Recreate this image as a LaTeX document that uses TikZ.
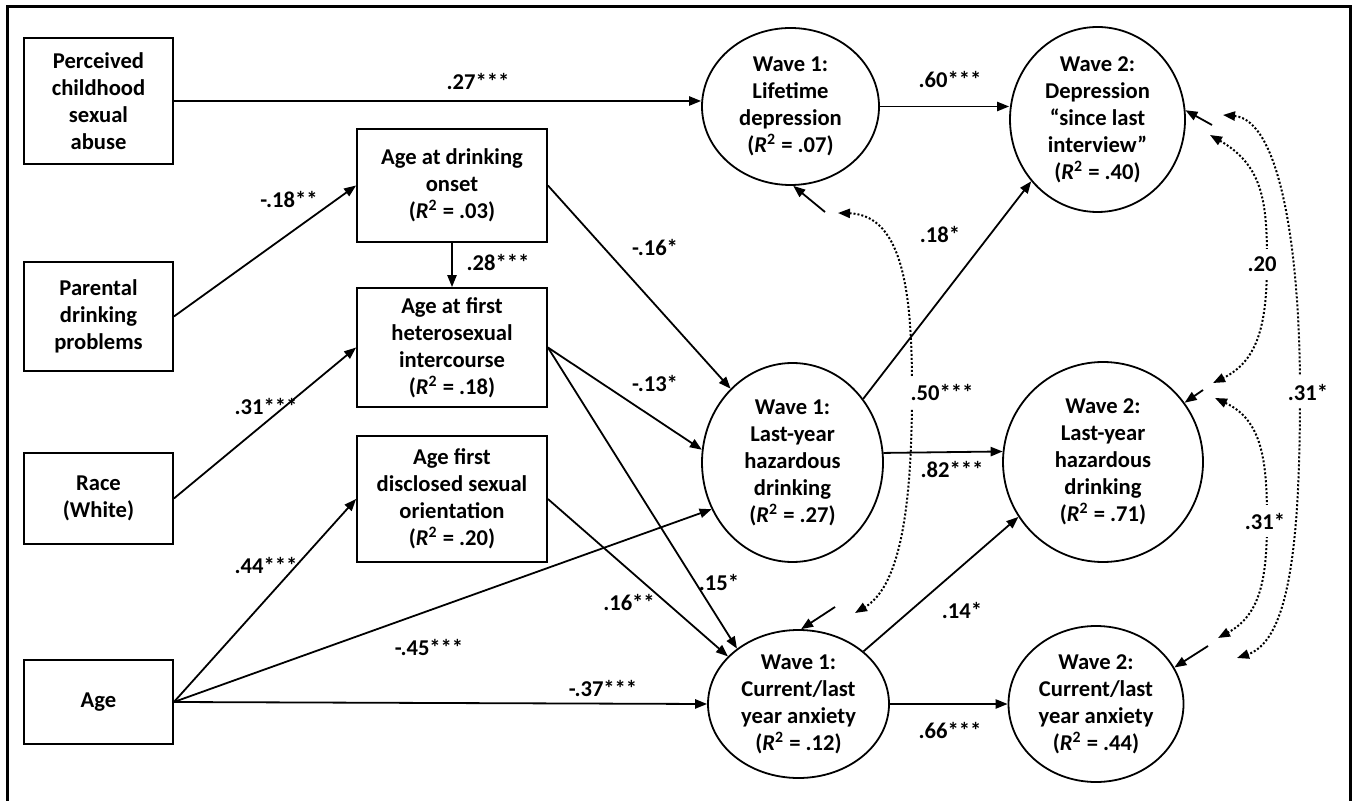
\documentclass[tikz,border=0pt]{standalone}
\usepackage{fontspec}
\setmainfont{Carlito}
\usetikzlibrary{arrows.meta,shapes.geometric}
\newcommand{\Rsq}[1]{(\textit{R}\textsuperscript{2} = #1)}

\begin{document}
\begin{tikzpicture}[x=0.5pt,y=-0.5pt,font=\bfseries\fontsize{11.3}{13.5}\selectfont,
  boite/.style={draw,line width=0.9pt,align=center,inner sep=0pt,minimum width=74.5pt},
  cercle/.style={draw,ellipse,line width=0.9pt,align=center,inner sep=0pt},
  fl/.style={line width=0.9pt,-{Triangle[length=6pt,width=4.6pt]}},
  cov/.style={line width=1pt,dash pattern=on 1pt off 1pt,{Triangle[length=6pt,width=4.6pt]}-{Triangle[length=6pt,width=4.6pt]}}]
\useasboundingbox (0,0) rectangle (1353,801);
\draw[line width=1.5pt] (7,830) -- (7,7) -- (1350,7) -- (1350,830);
% variables observees
\node[boite,minimum height=63pt] (perc) at (98.5,101) {Perceived\\childhood\\sexual\\abuse};
\node[boite,minimum height=54.5pt] (parent) at (98.5,316.5) {Parental\\drinking\\problems};
\node[boite,minimum height=45.5pt] (race) at (98.5,498.5) {Race\\(White)};
\node[boite,minimum height=42pt] (age) at (98.5,702) {Age};
\node[boite,minimum width=95pt,minimum height=56.5pt] (onset) at (452,185.5) {Age at drinking\\onset\\\Rsq{.03}};
\node[boite,minimum width=95pt,minimum height=59.5pt] (hetero) at (452,347.5) {Age at first\\heterosexual\\intercourse\\\Rsq{.18}};
\node[boite,minimum width=95pt,minimum height=63pt] (discl) at (452,499) {Age first\\disclosed sexual\\orientation\\\Rsq{.20}};
% vagues 1 et 2
\node[cercle,minimum width=88.5pt,minimum height=78.5pt] (lifeW1) at (790.5,106.5) {Wave 1:\\Lifetime\\depression\\\Rsq{.07}};
\node[cercle,minimum width=90.5pt,minimum height=99.5pt] (hazW1) at (792.5,462.5) {Wave 1:\\Last-year\\hazardous\\drinking\\\Rsq{.27}};
\node[cercle,minimum width=90.5pt,minimum height=74pt] (anxW1) at (798.5,704) {Wave 1:\\Current/last\\year anxiety\\\Rsq{.12}};
\node[cercle,minimum width=87.5pt,minimum height=92.5pt] (depW2) at (1097.5,119.5) {Wave 2:\\Depression\\“since last\\interview”\\\Rsq{.40}};
\node[cercle,minimum width=100pt,minimum height=100pt] (hazW2) at (1103,462) {Wave 2:\\Last-year\\hazardous\\drinking\\\Rsq{.71}};
\node[cercle,minimum width=87.5pt,minimum height=78pt] (anxW2) at (1096,704) {Wave 2:\\Current/last\\year anxiety\\\Rsq{.44}};
% chemins
\draw[fl] (perc.east) -- (perc.east -| lifeW1.west);
\draw[fl] (parent.east) -- (onset.west);
\draw[fl] (race.east) -- (hetero.west);
\draw[fl] (age.east) -- (discl.west);
\draw[fl] (age.east) -- (hazW1.210);
\draw[fl] (age.east) -- (anxW1.west);
\draw[fl] (onset.south) -- (hetero.north);
\draw[fl] (onset.east) -- (hazW1.130);
\draw[fl] (hetero.east) -- (hazW1.172);
\draw[fl] (hetero.east) -- (anxW1.138);
\draw[fl] (discl.east) -- (anxW1.146);
\draw[fl] (lifeW1.east) -- (lifeW1.east -| depW2.west);
\draw[fl] (hazW1.42) -- (depW2.223);
\draw[fl] (hazW1.6) -- (hazW2.174);
\draw[fl] (anxW1.39) -- (hazW2.213);
\draw[fl] (anxW1.east) -- (anxW2.west);
\node (l27) at (478,82) {.27***};
\node (l18a) at (289,200) {-.18**};
\node (l28) at (498,263) {.28***};
\node (l16a) at (655,248) {-.16*};
\node (l13) at (655,383) {-.13*};
\node (l31a) at (266,406) {.31***};
\node (l44) at (266,565) {.44***};
\node (l16b) at (629,602) {.16**};
\node (l15) at (719,582) {.15*};
\node (l45) at (429,647) {-.45***};
\node (l37) at (603,688) {-.37***};
\node (l60) at (950,80) {.60***};
\node (l18b) at (940,235) {.18*};
\node (l82) at (952,470) {.82***};
\node (l14) at (962,610) {.14*};
\node (l66) at (950,730) {.66***};
% residus et covariances
\coordinate (e1) at (825,212); \coordinate (e2) at (835,607);
\coordinate (e3) at (1212,125); \coordinate (e4) at (1203,390); \coordinate (e5) at (1208,646);
\draw[fl] (e1) -- (lifeW1.272);
\draw[fl] (e2) -- (anxW1.88);
\draw[fl] (e3) -- (depW2.6);
\draw[fl] (e4) -- (hazW2.36);
\draw[fl] (e5) -- (anxW2.25);
\coordinate (c1a) at (838,213); \coordinate (c1b) at (855,613);
\coordinate (c2a) at (1210,135); \coordinate (c2b) at (1213,383);
\coordinate (c3a) at (1215,398); \coordinate (c3b) at (1218,638);
\coordinate (c4a) at (1223,115); \coordinate (c4b) at (1237,658);
\draw[cov] (c1a) .. controls (905,215) and (912,300) .. (912,390) .. controls (912,500) and (902,585) .. (c1b);
\draw[cov] (c2a) .. controls (1262,165) and (1267,200) .. (1267,260) .. controls (1267,320) and (1260,360) .. (c2b);
\draw[cov] (c3a) .. controls (1262,420) and (1267,460) .. (1267,520) .. controls (1267,580) and (1260,615) .. (c3b);
\draw[cov] (c4a) .. controls (1280,120) and (1300,250) .. (1300,392) .. controls (1300,540) and (1290,640) .. (c4b);
\node[fill=white,inner sep=4pt] (l50) at (942,392) {.50***};
\node[fill=white,inner sep=4pt] (l20) at (1262,264) {.20};
\node[fill=white,inner sep=4pt] (l31b) at (1308,392) {.31*};
\node[fill=white,inner sep=4pt] (l31c) at (1265,521) {.31*};
\end{tikzpicture}
\end{document}
